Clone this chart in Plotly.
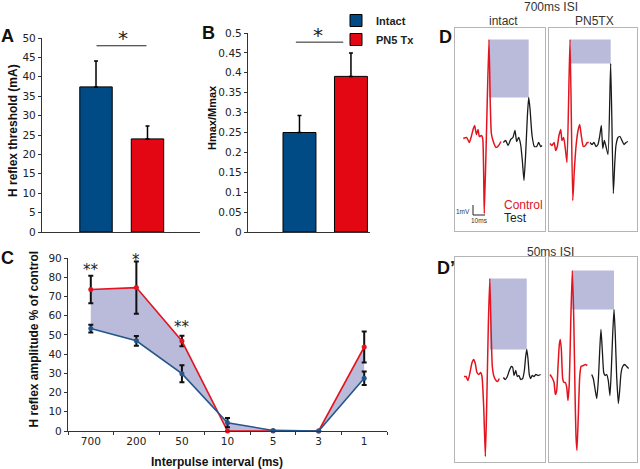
import plotly.graph_objects as go

# ---- A / B: bar data ----
groups = ["Intact", "PN5 Tx"]
bar_colors = ["#004a86", "#e30613"]
threshold = [37.4, 24.0]
threshold_err = [6.7, 3.3]
hmax_mmax = [0.25, 0.391]
hmax_mmax_err = [0.043, 0.059]

# ---- C: rate dependent depression ----
intervals = ["700", "200", "50", "10", "5", "3", "1"]
intact_amp = [53.3, 46.9, 29.8, 4.3, 0.3, 0.0, 27.4]
intact_err = [2.0, 2.5, 4.4, 2.4, 0, 0, 3.5]
pn5_amp = [73.6, 74.6, 46.8, 0.0, 0.0, 0.0, 43.7]
pn5_err = [7.2, 13.6, 2.7, 0, 0, 0, 8.0]
c_stars = {"700": ("**", 84), "200": ("*", 89), "50": ("**", 54)}

# ---- D / D': example sweeps (ms, mV) ----
t_700i_ctrl = [6.9, 9.7, 11.9, 13.6, 15.3, 16.4, 17.8, 19.2, 20.3, 22.0, 23.1, 24.4, 26.4, 28.3, 29.4, 30.3, 31.9, 34.2, 36.4, 38.3]
v_700i_ctrl = [-0.9, -0.8, -1.3, -0.7, 0.1, 0.4, -0.5, 0.0, -0.7, -0.6, -0.9, -8.4, 0.5, 9.0, 2.6, -0.4, -1.2, -1.8, -1.6, -1.2]
t_700i_test = [40.3, 42.2, 44.2, 46.4, 48.3, 50.0, 51.4, 53.1, 54.7, 56.1, 57.5, 58.9, 60.3, 61.4, 62.5, 64.2, 66.1, 68.1, 69.7, 71.4, 72.5]
v_700i_test = [-1.3, -1.1, -1.6, -1.0, -0.8, -0.1, -1.2, -0.8, -1.5, -3.1, -5.1, -2.4, 1.3, 3.2, 2.1, -0.6, -1.7, -1.7, -1.3, -1.7, -1.6]

t_700p_ctrl = [0.8, 2.5, 4.2, 5.6, 6.9, 8.3, 9.8, 10.8, 12.2, 13.6, 15.0, 17.5, 19.8, 21.1, 22.5, 24.2, 25.6, 26.9, 28.6, 30.3, 31.9, 33.1]
v_700p_ctrl = [-1.4, -1.6, -1.3, -2.1, -1.7, -0.6, 0.0, -1.1, -0.8, -1.9, -3.3, 9.0, -7.1, -4.1, -1.7, -0.1, 0.5, -0.6, -1.7, -1.6, -1.3, -1.3]
t_700p_test = [34.2, 35.8, 37.5, 39.2, 40.8, 42.2, 43.6, 44.8, 46.1, 47.5, 49.2, 51.4, 53.6, 54.8, 55.8, 57.5, 59.2, 60.8, 62.5, 64.2, 65.8]
v_700p_test = [-1.3, -1.5, -1.3, -1.7, -1.5, -0.7, 0.4, -1.9, -1.1, -1.7, -2.5, 6.6, -6.4, -3.4, -1.6, -0.8, -0.7, -1.1, -1.5, -1.3, -1.2]

t_50i_ctrl = [7.5, 9.2, 10.8, 12.5, 14.2, 15.6, 16.9, 18.3, 19.8, 21.4, 22.5, 23.9, 25.3, 26.4, 27.8, 29.0, 30.0, 31.1, 32.5, 34.2, 35.6, 36.9]
v_50i_ctrl = [-1.7, -1.7, -2.1, -1.3, -0.3, 0.0, -0.4, -1.3, -1.5, -1.3, -1.7, -4.7, -9.7, -4.7, 3.6, 8.1, 3.3, -0.7, -1.7, -2.1, -2.2, -1.9]
t_50i_test = [40.3, 41.9, 43.6, 45.3, 46.9, 48.1, 49.2, 50.6, 51.9, 53.3, 54.7, 56.4, 57.8, 58.9, 59.8, 60.8, 61.9, 63.1, 64.4, 65.8, 67.5, 69.2, 71.4]
v_50i_test = [-1.8, -2.0, -1.7, -1.1, -0.7, -0.8, -1.6, -1.1, -1.7, -1.6, -2.0, -1.9, -1.1, 0.3, 1.0, 0.1, -1.5, -1.9, -1.6, -1.7, -1.5, -1.6, -1.5]

t_50p_ctrl = [0.8, 2.5, 4.2, 5.3, 6.4, 7.5, 8.6, 9.4, 10.3, 11.4, 12.5, 13.6, 14.8, 15.8, 16.9, 18.1, 19.4, 20.6, 21.7, 22.5, 23.3, 24.4, 25.6, 26.7, 28.6, 30.3, 31.9]
v_50p_ctrl = [-1.5, -1.8, -2.3, -3.5, -3.1, -0.7, 1.5, 2.0, 1.0, -1.9, -2.3, -2.3, -2.8, -4.1, -2.4, 3.6, 8.9, 4.3, -3.4, -7.7, -9.1, -5.7, -1.7, -0.7, -0.6, -0.5, -0.6]
t_50p_test = [35.6, 36.9, 38.3, 39.8, 41.1, 42.3, 43.3, 44.4, 45.6, 46.7, 48.1, 49.4, 50.8, 51.9, 53.1, 54.2, 55.2, 56.4, 57.8, 58.9, 60.0, 61.4, 63.1, 64.8, 66.4]
v_50p_test = [-1.5, -1.9, -2.9, -3.9, -2.1, 1.0, 3.0, 1.0, -1.3, -1.6, -1.5, -2.1, -3.6, -1.1, 2.6, 5.0, 2.6, -1.7, -4.4, -3.1, -1.4, -0.7, -0.5, -0.7, -0.9]

RED = "#e3141e"
BLUE = "#24568c"
LAV = "#babadb"
TICKFONT = dict(family="DejaVu Sans", size=10.5, color="#222")

fig = go.Figure()

# A
for i, g in enumerate(groups):
    fig.add_trace(go.Bar(x=[i + 1], y=[threshold[i]], width=0.63, name=g,
                         marker=dict(color=bar_colors[i], line=dict(color="black", width=1)),
                         error_y=dict(type="data", symmetric=False, array=[threshold_err[i]], arrayminus=[0],
                                      color="black", thickness=1.5, width=2),
                         xaxis="x", yaxis="y", showlegend=True))
fig.add_trace(go.Scatter(x=[1.01, 1.98], y=[48, 48], mode="lines", line=dict(color="#222", width=1),
                         xaxis="x", yaxis="y", showlegend=False))

# B
for i, g in enumerate(groups):
    fig.add_trace(go.Bar(x=[i + 1], y=[hmax_mmax[i]], width=0.64, name=g,
                         marker=dict(color=bar_colors[i], line=dict(color="black", width=1)),
                         error_y=dict(type="data", symmetric=False, array=[hmax_mmax_err[i]], arrayminus=[0],
                                      color="black", thickness=1.5, width=2),
                         xaxis="x2", yaxis="y2", showlegend=False))
fig.add_trace(go.Scatter(x=[0.93, 1.85], y=[0.477, 0.477], mode="lines", line=dict(color="#222", width=1),
                         xaxis="x2", yaxis="y2", showlegend=False))

# C
fig.add_trace(go.Scatter(x=intervals, y=pn5_amp, mode="lines+markers",
                         line=dict(color=RED, width=1.6), marker=dict(color=RED, size=5),
                         error_y=dict(type="data", array=pn5_err, color="#111", thickness=2, width=2.5),
                         cliponaxis=False, xaxis="x3", yaxis="y3", showlegend=False))
fig.add_trace(go.Scatter(x=intervals, y=intact_amp, mode="lines+markers", fill="tonexty", fillcolor=LAV,
                         line=dict(color=BLUE, width=1.6), marker=dict(color=BLUE, size=5),
                         error_y=dict(type="data", array=intact_err, color="#111", thickness=2, width=2.5),
                         cliponaxis=False, xaxis="x3", yaxis="y3", showlegend=False))

# D / D'
sweeps = [
    (t_700i_ctrl, v_700i_ctrl, t_700i_test, v_700i_test),
    (t_700p_ctrl, v_700p_ctrl, t_700p_test, v_700p_test),
    (t_50i_ctrl, v_50i_ctrl, t_50i_test, v_50i_test),
    (t_50p_ctrl, v_50p_ctrl, t_50p_test, v_50p_test),
]
for k, (tc, vc, tt, vt) in enumerate(sweeps):
    ax = str(k + 4)
    ic = vc.index(max(vc))
    it = vt.index(max(vt))
    # shaded difference between control and test peak
    fig.add_trace(go.Scatter(x=[tc[ic], tt[it], tt[it], tc[ic], tc[ic]],
                             y=[vt[it], vt[it], vc[ic], vc[ic], vt[it]],
                             mode="lines", fill="toself", fillcolor=LAV, line=dict(width=0),
                             xaxis="x" + ax, yaxis="y" + ax, showlegend=False))
    fig.add_trace(go.Scatter(x=tc, y=vc, mode="lines", line=dict(color=RED, width=1.5, shape="spline", smoothing=0.5),
                             xaxis="x" + ax, yaxis="y" + ax, showlegend=False))
    fig.add_trace(go.Scatter(x=tt, y=vt, mode="lines", line=dict(color="#1a1a1a", width=1.3, shape="spline", smoothing=0.5),
                             xaxis="x" + ax, yaxis="y" + ax, showlegend=False))

# scale bar: 1 mV / 10 ms
fig.add_trace(go.Scatter(x=[15, 15, 25], y=[-7.55, -8.55, -8.55], mode="lines", line=dict(color="#222", width=1),
                         xaxis="x4", yaxis="y4", showlegend=False))

axis_common = dict(showgrid=False, zeroline=False, showline=True, linecolor="#333", linewidth=1.3,
                   tickfont=TICKFONT, ticks="outside", ticklen=3, tickcolor="#333", automargin=False)
flat_x = dict(showgrid=False, zeroline=False, showline=True, linecolor="#333", linewidth=1.3,
              showticklabels=False, ticks="", automargin=False)
box_axis = dict(showgrid=False, zeroline=False, showline=True, mirror=True, linecolor="#b5b5b5",
                linewidth=1, showticklabels=False, ticks="", automargin=False)

top_y = [1 - 231 / 469, 1 - 28 / 469]
bot_y = [1 - 462 / 469, 1 - 257 / 469]

fig.update_layout(
    template="none",
    width=640, height=469, autosize=False,
    margin=dict(l=0, r=0, t=0, b=0, pad=0, autoexpand=False),
    paper_bgcolor="white", plot_bgcolor="white",
    barmode="overlay",
    hovermode=False,
    xaxis=dict(domain=[42 / 640, 200 / 640], range=[-0.049, 3.02], anchor="y", **flat_x),
    yaxis=dict(domain=[1 - 232 / 469, 1 - 38 / 469], range=[0, 50], dtick=5, anchor="x", **axis_common),
    xaxis2=dict(domain=[248 / 640, 370 / 640], range=[0, 2.37], anchor="y2", **flat_x),
    yaxis2=dict(domain=[1 - 232 / 469, 1 - 33 / 469], range=[0, 0.5], dtick=0.05, anchor="x2", **axis_common),
    xaxis3=dict(domain=[68 / 640, 387 / 640], type="category", categoryorder="array", categoryarray=intervals,
                range=[-0.5, 6.5], tickson="boundaries", anchor="y3", **axis_common),
    yaxis3=dict(domain=[1 - 431 / 469, 1 - 258 / 469], range=[0, 90], dtick=10, anchor="x3", **axis_common),
    xaxis4=dict(domain=[455 / 640, 545 / 640], range=[0, 75], anchor="y4", **box_axis),
    yaxis4=dict(domain=top_y, range=[-10.15, 10.15], anchor="x4", **box_axis),
    xaxis5=dict(domain=[549 / 640, 637 / 640], range=[0, 73.33], anchor="y5", **box_axis),
    yaxis5=dict(domain=top_y, range=[-10.15, 10.15], anchor="x5", **box_axis),
    xaxis6=dict(domain=[455 / 640, 545 / 640], range=[0, 75], anchor="y6", **box_axis),
    yaxis6=dict(domain=bot_y, range=[-10.25, 10.25], anchor="x6", **box_axis),
    xaxis7=dict(domain=[549 / 640, 637 / 640], range=[0, 73.33], anchor="y7", **box_axis),
    yaxis7=dict(domain=bot_y, range=[-10.25, 10.25], anchor="x7", **box_axis),
    legend=dict(x=336 / 640, y=1 - 6 / 469, xanchor="left", yanchor="top", bgcolor="rgba(0,0,0,0)",
                font=dict(family="Liberation Sans", size=11, color="#222", weight="bold"),
                itemwidth=30, tracegroupgap=0, traceorder="normal"),
)

ann = []
def txt(x, y, s, size, xref="paper", yref="paper", **kw):
    d = dict(x=x, y=y, xref=xref, yref=yref, text=s, showarrow=False,
             xanchor="center", yanchor="middle", font=dict(size=size, **kw.pop("font", {})))
    d.update(kw)
    ann.append(d)

BOLD = dict(family="Liberation Sans", color="#111", weight="bold")

# panel letters
for lab, px, py in [("A", 7.5, 36), ("B", 208.5, 32.5), ("C", 7.5, 257.5), ("D", 445, 36.5), ("D’", 446, 268)]:
    txt(px / 640, 1 - py / 469, lab, 18, font=BOLD)

# axis titles
txt(13 / 640, 1 - 131 / 469, "H reflex threshold (mA)", 12, textangle=-90, font=BOLD)
txt(212 / 640, 1 - 118 / 469, "Hmax/Mmax", 11, textangle=-90, font=BOLD)
txt(33.5 / 640, 1 - 339 / 469, "H reflex amplitude % of control", 12, textangle=-90, font=BOLD)
txt(217 / 640, 1 - 462 / 469, "Interpulse interval (ms)", 12, font=BOLD)

# significance
STAR = dict(family="DejaVu Sans", color="#222")
txt(1.53, 1 - 38 / 469, "*", 20, xref="x", yref="paper", font=STAR)
txt(1.36, 1 - 35 / 469, "*", 20, xref="x2", yref="paper", font=STAR)
for cat, (s, yv) in c_stars.items():
    txt(intervals.index(cat), yv, s, 15, xref="x3", yref="y3", font=STAR)

# D titles
GREY = dict(family="Liberation Sans", color="#333")
txt(551 / 640, 1 - 7 / 469, "700ms ISI", 12, font=GREY)
txt(503 / 640, 1 - 20.5 / 469, "intact", 12, font=GREY)
txt(594.5 / 640, 1 - 20.5 / 469, "PN5TX", 12, font=GREY)
txt(550 / 640, 1 - 252.5 / 469, "50ms ISI", 12, font=GREY)

# legend inside D
txt(38.9, -7.55, "Control", 12, xref="x4", yref="y4", xanchor="left", font=dict(family="Liberation Sans", color=RED))
txt(38.9, -8.85, "Test", 12, xref="x4", yref="y4", xanchor="left", font=dict(family="Liberation Sans", color="#222"))
txt(14.5, -8.2, "1mV", 6.5, xref="x4", yref="y4", xanchor="right", font=GREY)
txt(20.5, -9.1, "10ms", 6.5, xref="x4", yref="y4", font=GREY)

fig.update_layout(annotations=ann)
fig.write_html("out.html", config={"displayModeBar": False},
               post_script="document.body.style.margin='0px';")
